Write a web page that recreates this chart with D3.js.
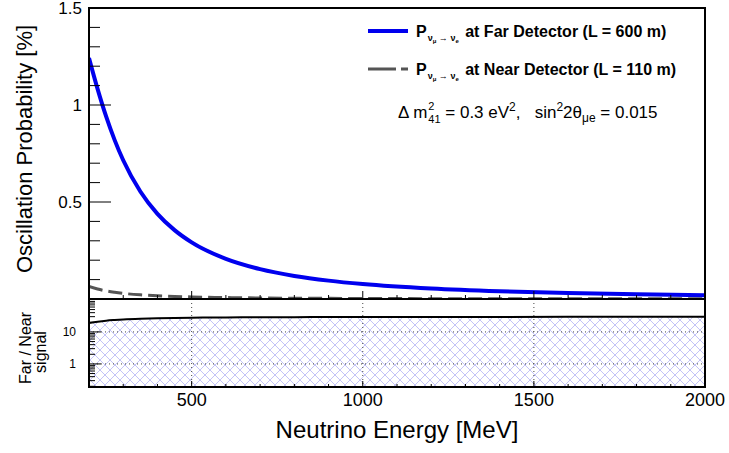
<!DOCTYPE html>
<html>
<head>
<meta charset="utf-8">
<script src="https://cdn.jsdelivr.net/npm/d3@7"></script>
<style>
  body { margin: 0; background: #fff; }
  text { font-family: "Liberation Sans", Arial, sans-serif; white-space: pre; }
</style>
</head>
<body>
<svg id="chart" width="729" height="453"></svg>
<script>
// neutrino energy [MeV]
const energy = [200, 225, 250, 275, 300, 350, 400, 450, 500, 600, 700, 800, 900, 1000, 1200, 1400, 1600, 1800, 2000];
// oscillation probability [%] at far detector (L = 600 m)
const farProb = [1.242, 1.083, 0.941, 0.819, 0.715, 0.554, 0.439, 0.355, 0.292, 0.207, 0.154, 0.119, 0.0947, 0.0770, 0.0538, 0.0396, 0.0304, 0.0241, 0.0195];
// oscillation probability [%] at near detector (L = 110 m)
const nearProb = [0.0654, 0.0517, 0.0417, 0.0347, 0.0291, 0.0214, 0.0164, 0.0130, 0.0105, 0.0073, 0.0054, 0.0041, 0.00325, 0.0026, 0.0018, 0.00134, 0.00103, 0.00081, 0.00066];
// far / near signal ratio
const ratio = [19.0, 20.95, 22.55, 23.63, 24.55, 25.86, 26.74, 27.36, 27.80, 28.38, 28.74, 29.0, 29.14, 29.18, 29.4, 29.5, 29.56, 29.6, 29.64];

const xTicks = [500, 1000, 1500, 2000];
const yTopTicks = [0.5, 1, 1.5];
const yLowTicks = [1, 10];

const svg = d3.select('#chart');
const L = 89, R = 705, T = 8, MID = 299, B = 387;

const x = d3.scaleLinear().domain([200, 2000]).range([L, R]);
const yTop = d3.scaleLinear().domain([0, 1.5]).range([MID, T]);
const yLow = d3.scaleLog().domain([0.19, 107]).range([B, MID]);

const defs = svg.append('defs');
defs.append('clipPath').attr('id', 'clipTop')
    .append('rect').attr('x', L).attr('y', T).attr('width', R - L).attr('height', MID - T);
defs.append('clipPath').attr('id', 'clipLow')
    .append('rect').attr('x', L).attr('y', MID).attr('width', R - L).attr('height', B - MID);
const pat = defs.append('pattern').attr('id', 'hatch')
    .attr('patternUnits', 'userSpaceOnUse').attr('width', 10).attr('height', 10);
pat.append('path').attr('d', 'M0,0L10,10M-5,5L5,15M5,-5L15,5M0,10L10,0M-5,5L5,-5M5,15L15,5')
    .attr('stroke', '#bcbcf6').attr('stroke-width', 0.9).attr('fill', 'none');

const pts = (ys) => energy.map((e, i) => [e, ys[i]]);

// ---- lower pad: hatched area, grid, ratio line
svg.append('path')
    .datum(pts(ratio))
    .attr('clip-path', 'url(#clipLow)')
    .attr('fill', 'url(#hatch)')
    .attr('d', d3.area().x((d) => x(d[0])).y0(B).y1((d) => yLow(d[1])).curve(d3.curveMonotoneX));

const grid = svg.append('g').attr('stroke', '#444').attr('stroke-width', 1).attr('stroke-dasharray', '1,3');
grid.selectAll('.gx').data(xTicks.filter((t) => t < 2000)).enter().append('line')
    .attr('x1', (d) => x(d)).attr('x2', (d) => x(d)).attr('y1', MID).attr('y2', B);
grid.selectAll('.gy').data(yLowTicks).enter().append('line')
    .attr('x1', L).attr('x2', R).attr('y1', (d) => yLow(d)).attr('y2', (d) => yLow(d));

svg.append('path')
    .datum(pts(ratio))
    .attr('clip-path', 'url(#clipLow)')
    .attr('fill', 'none').attr('stroke', '#000').attr('stroke-width', 2)
    .attr('d', d3.line().x((d) => x(d[0])).y((d) => yLow(d[1])).curve(d3.curveMonotoneX));

// ---- top pad curves
svg.append('path')
    .datum(pts(nearProb))
    .attr('clip-path', 'url(#clipTop)')
    .attr('fill', 'none').attr('stroke', '#555').attr('stroke-width', 3)
    .attr('stroke-dasharray', '14,6')
    .attr('d', d3.line().x((d) => x(d[0])).y((d) => yTop(d[1])).curve(d3.curveMonotoneX));

svg.append('path')
    .datum(pts(farProb))
    .attr('clip-path', 'url(#clipTop)')
    .attr('fill', 'none').attr('stroke', '#0000ee').attr('stroke-width', 4)
    .attr('d', d3.line().x((d) => x(d[0])).y((d) => yTop(d[1])).curve(d3.curveMonotoneX));

// ---- ticks
const tk = svg.append('g').attr('stroke', '#000').attr('stroke-width', 1);
// top pad y ticks
tk.selectAll('.ty').data(d3.range(0.1, 1.51, 0.1)).enter().append('line')
    .attr('x1', L).attr('y1', (d) => yTop(d)).attr('y2', (d) => yTop(d))
    .attr('x2', (d) => L + (Math.abs(d * 2 - Math.round(d * 2)) < 1e-6 ? 22 : 11));
// top pad x ticks (bottom edge)
tk.selectAll('.tx').data(d3.range(300, 2000, 100)).enter().append('line')
    .attr('x1', (d) => x(d)).attr('x2', (d) => x(d)).attr('y1', MID)
    .attr('y2', (d) => MID - (d % 500 === 0 ? 8 : 4));
// lower pad x ticks
tk.selectAll('.tx2').data(d3.range(300, 2000, 100)).enter().append('line')
    .attr('x1', (d) => x(d)).attr('x2', (d) => x(d)).attr('y1', B)
    .attr('y2', (d) => B - (d % 500 === 0 ? 6 : 3));
// lower pad log ticks
const logTicks = [];
[0.1, 1, 10].forEach((dec) => d3.range(1, 10).forEach((m) => {
    const v = dec * m;
    if (v >= 0.19 && v <= 107) logTicks.push(v);
}));
tk.selectAll('.tl').data(logTicks).enter().append('line')
    .attr('x1', L).attr('y1', (d) => yLow(d)).attr('y2', (d) => yLow(d))
    .attr('x2', (d) => L + (yLowTicks.includes(d) ? 12 : 6));

// ---- frames
svg.append('rect').attr('x', L).attr('y', T).attr('width', R - L).attr('height', MID - T)
    .attr('fill', 'none').attr('stroke', '#000').attr('stroke-width', 2);
svg.append('rect').attr('x', L).attr('y', MID).attr('width', R - L).attr('height', B - MID)
    .attr('fill', 'none').attr('stroke', '#000').attr('stroke-width', 2);

// ---- tick labels
svg.selectAll('.lx').data(xTicks).enter().append('text')
    .attr('x', (d) => x(d)).attr('y', 406).attr('text-anchor', 'middle')
    .attr('font-size', 18).text((d) => d);
svg.selectAll('.ly').data(yTopTicks).enter().append('text')
    .attr('x', 82).attr('y', (d) => yTop(d) + 6).attr('text-anchor', 'end')
    .attr('font-size', 17).text((d) => d);
svg.selectAll('.ll').data(yLowTicks).enter().append('text')
    .attr('x', 76).attr('y', (d) => yLow(d) + 4).attr('text-anchor', 'end')
    .attr('font-size', 12).text((d) => d);

// ---- axis titles
svg.append('text').attr('transform', 'translate(32,149) rotate(-90)')
    .attr('text-anchor', 'middle').attr('font-size', 22).text('Oscillation Probability [%]');
svg.append('text').attr('transform', 'translate(31,348) rotate(-90)')
    .attr('text-anchor', 'middle').attr('font-size', 16).text('Far / Near');
svg.append('text').attr('transform', 'translate(46,352) rotate(-90)')
    .attr('text-anchor', 'middle').attr('font-size', 16).text('signal');
svg.append('text').attr('x', 397).attr('y', 438).attr('text-anchor', 'middle')
    .attr('font-size', 24).text('Neutrino Energy [MeV]');

// ---- rich text helper: runs placed one after another
function runs(x0, y0, parts, weight) {
    let cx = x0;
    parts.forEach((p) => {
        const t = svg.append('text').attr('x', cx + (p.dx || 0)).attr('y', y0 + (p.dy || 0))
            .attr('font-size', p.size).attr('font-weight', weight).text(p.t);
        const w = t.node().getComputedTextLength();
        if (!p.stack) cx += w + (p.dx || 0);
    });
}

const legend = [
    {y: 37, color: '#0000ee', width: 4, dash: null, label: 'at Far Detector (L = 600 m)'},
    {y: 75, color: '#555', width: 3, dash: '28,5,8,60', label: 'at Near Detector (L = 110 m)'},
];
legend.forEach((d) => {
    svg.append('line').attr('x1', 368).attr('x2', 408).attr('y1', d.y - 6).attr('y2', d.y - 6)
        .attr('stroke', d.color).attr('stroke-width', d.width).attr('stroke-dasharray', d.dash);
    runs(416, d.y, [
        {t: 'P', size: 16},
        {t: 'ν', size: 9, dy: 4, dx: 1},
        {t: 'μ', size: 6, dy: 6},
        {t: ' → ', size: 9, dy: 4},
        {t: 'ν', size: 9, dy: 4},
        {t: 'e', size: 6, dy: 6},
        {t: ' ' + d.label, size: 16, dx: 2},
    ], 'bold');
});

runs(398, 118, [
    {t: 'Δ m', size: 17},
    {t: '2', size: 11, dy: -8, dx: 1, stack: true},
    {t: '41', size: 11, dy: 5, dx: 1},
    {t: ' = 0.3 eV', size: 17},
    {t: '2', size: 12, dy: -7},
    {t: ',   sin', size: 17},
    {t: '2', size: 12, dy: -7},
    {t: '2θ', size: 17},
    {t: 'μe', size: 12, dy: 4},
    {t: ' = 0.015', size: 17},
], 'normal');
</script>
</body>
</html>
